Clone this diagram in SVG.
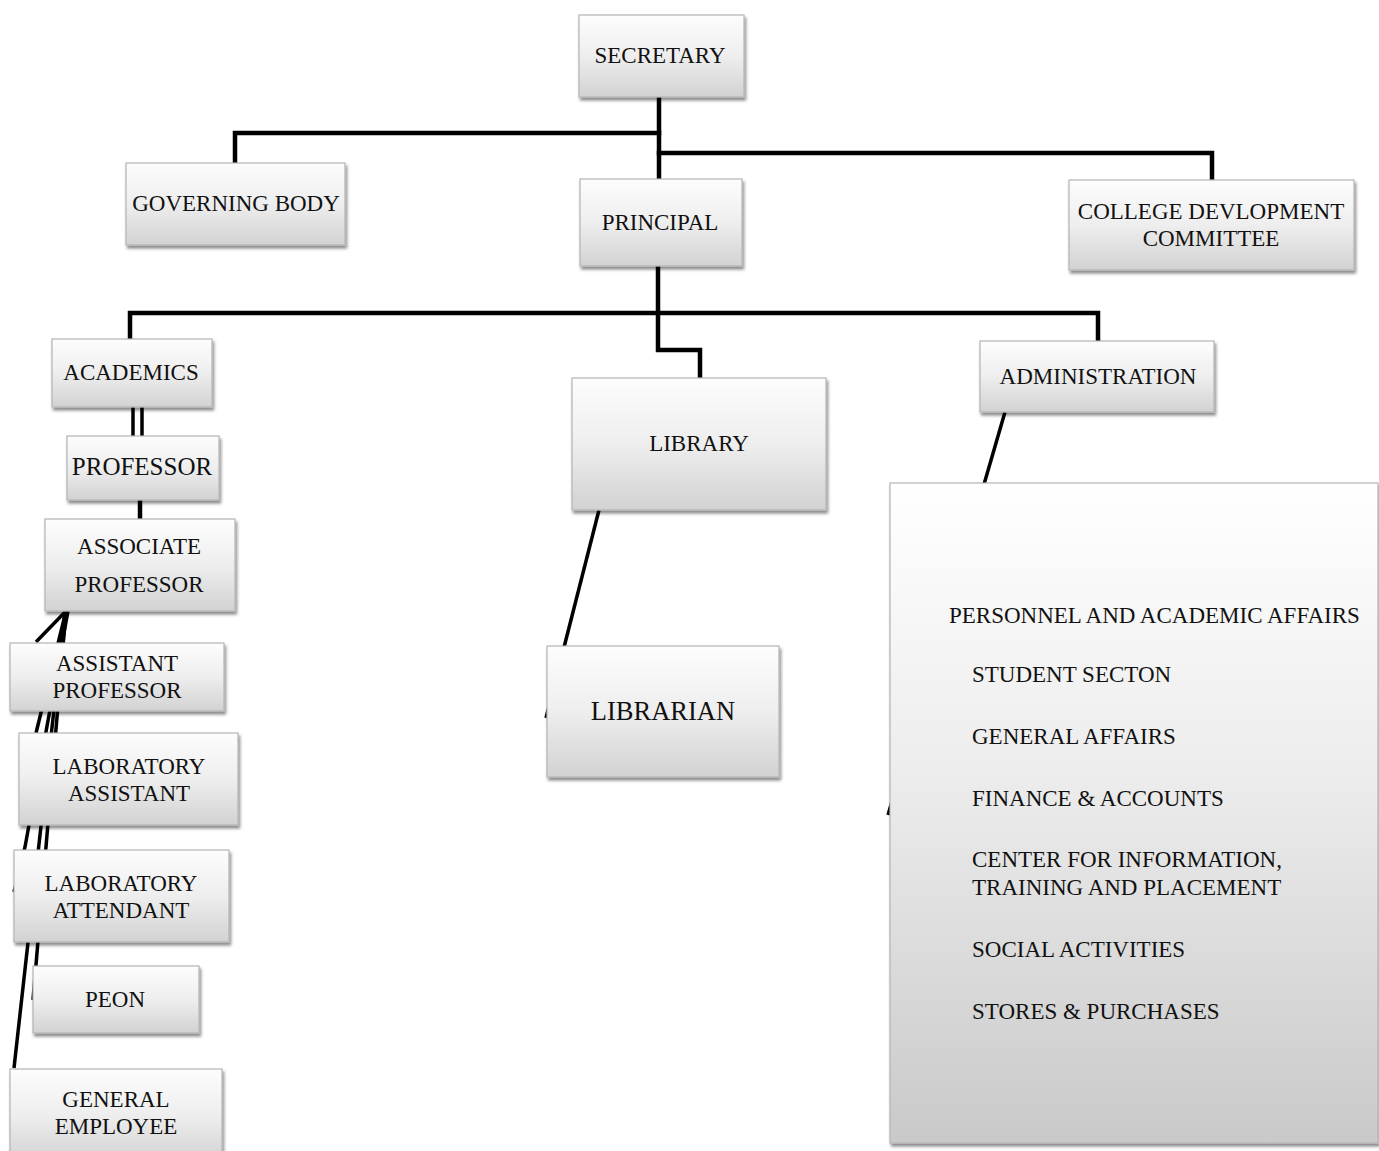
<svg xmlns="http://www.w3.org/2000/svg" width="1379" height="1151" viewBox="0 0 1379 1151">
<style>
.box{fill:url(#g);stroke:#b4b4b4;stroke-width:1.2;filter:url(#sh)}
.t{font-family:"Liberation Serif","Times New Roman",serif;font-size:23px;fill:#111;text-anchor:middle}
.tl{font-family:"Liberation Serif","Times New Roman",serif;font-size:23px;fill:#111}
.c{stroke:#000;stroke-width:4.5;fill:none;stroke-linecap:square}
.c2{stroke:#000;stroke-width:3.5;fill:none}
</style>
<defs>
<linearGradient id="g" x1="0" y1="0" x2="0" y2="1">
<stop offset="0" stop-color="#fdfdfd"/>
<stop offset="0.5" stop-color="#eeeeee"/>
<stop offset="1" stop-color="#d2d2d2"/>
</linearGradient>
<linearGradient id="gb" x1="0" y1="0" x2="0" y2="1">
<stop offset="0" stop-color="#ffffff"/>
<stop offset="0.45" stop-color="#ececec"/>
<stop offset="1" stop-color="#c9c9c9"/>
</linearGradient>
<filter id="sh" x="-10%" y="-10%" width="130%" height="140%">
<feDropShadow dx="1.5" dy="3" stdDeviation="1.6" flood-color="#000" flood-opacity="0.45"/>
</filter>
</defs>
<rect width="1379" height="1151" fill="#fff"/>

<g id="connectors">
<path class="c" d="M659 97 V179"/>
<path class="c" d="M659 133 H235 V163"/>
<path class="c" d="M659 153 H1212 V180"/>
<path class="c" d="M658 266 V350 H700 V378"/>
<path class="c" d="M130 339 V313 H1098 V341"/>
<path class="c2" d="M133 407 V436"/>
<path class="c2" d="M142 407 V436"/>
<path class="c" d="M140 500 V519"/>
<path class="c2" d="M599 510 L546 718"/>
<path class="c2" d="M1005 412 L888 815"/>
<path class="c2" d="M65 611 L14 1068"/>
<path class="c2" d="M66 611 L33 1000"/>
<path class="c2" d="M66 611 L36 642"/>
<path class="c2" d="M66 611 L36 733"/>
<path class="c2" d="M68 611 L25 847 L14 892"/>
</g>

<g id="secretary"><rect class="box" x="579" y="15" width="165" height="82"/><text class="t" x="660" y="63">SECRETARY</text></g>
<g id="governing-body"><rect class="box" x="126" y="163" width="219" height="82"/><text class="t" x="236" y="211">GOVERNING BODY</text></g>
<g id="principal"><rect class="box" x="580" y="179" width="162" height="87"/><text class="t" x="660" y="230">PRINCIPAL</text></g>
<g id="college-development-committee"><rect class="box" x="1069" y="180" width="285" height="90"/><text class="t" x="1211" y="219">COLLEGE DEVLOPMENT</text><text class="t" x="1211" y="246">COMMITTEE</text></g>
<g id="academics"><rect class="box" x="52" y="339" width="160" height="68"/><text class="t" x="131" y="380">ACADEMICS</text></g>
<g id="professor"><rect class="box" x="67" y="436" width="152" height="64"/><text class="t" x="142" y="475" style="font-size:25px">PROFESSOR</text></g>
<g id="associate-professor"><rect class="box" x="45" y="519" width="190" height="92"/><text class="t" x="139" y="554">ASSOCIATE</text><text class="t" x="139" y="592">PROFESSOR</text></g>
<g id="assistant-professor"><rect class="box" x="10" y="643" width="214" height="68"/><text class="t" x="117" y="671">ASSISTANT</text><text class="t" x="117" y="698">PROFESSOR</text></g>
<g id="laboratory-assistant"><rect class="box" x="19" y="733" width="219" height="92"/><text class="t" x="129" y="774">LABORATORY</text><text class="t" x="129" y="801">ASSISTANT</text></g>
<g id="laboratory-attendant"><rect class="box" x="14" y="850" width="215" height="92"/><text class="t" x="121" y="891">LABORATORY</text><text class="t" x="121" y="918">ATTENDANT</text></g>
<g id="peon"><rect class="box" x="33" y="966" width="166" height="67"/><text class="t" x="115" y="1007">PEON</text></g>
<g id="general-employee"><rect class="box" x="10" y="1069" width="212" height="92"/><text class="t" x="116" y="1107">GENERAL</text><text class="t" x="116" y="1134">EMPLOYEE</text></g>
<g id="library"><rect class="box" x="572" y="378" width="254" height="132"/><text class="t" x="699" y="451">LIBRARY</text></g>
<g id="librarian"><rect class="box" x="547" y="646" width="232" height="131"/><text class="t" x="663" y="720" style="font-size:26.5px">LIBRARIAN</text></g>
<g id="administration"><rect class="box" x="980" y="341" width="234" height="71"/><text class="t" x="1098" y="384">ADMINISTRATION</text></g>
<g id="administration-sections"><rect class="box" x="890" y="483" width="488" height="660" style="fill:url(#gb)"/>
<text class="tl" x="949" y="623">PERSONNEL AND ACADEMIC AFFAIRS</text>
<text class="tl" x="972" y="682">STUDENT SECTON</text>
<text class="tl" x="972" y="744">GENERAL AFFAIRS</text>
<text class="tl" x="972" y="806">FINANCE &amp; ACCOUNTS</text>
<text class="tl" x="972" y="867">CENTER FOR INFORMATION,</text>
<text class="tl" x="972" y="895">TRAINING AND PLACEMENT</text>
<text class="tl" x="972" y="957">SOCIAL ACTIVITIES</text>
<text class="tl" x="972" y="1019">STORES &amp; PURCHASES</text>
</g>
</svg>
